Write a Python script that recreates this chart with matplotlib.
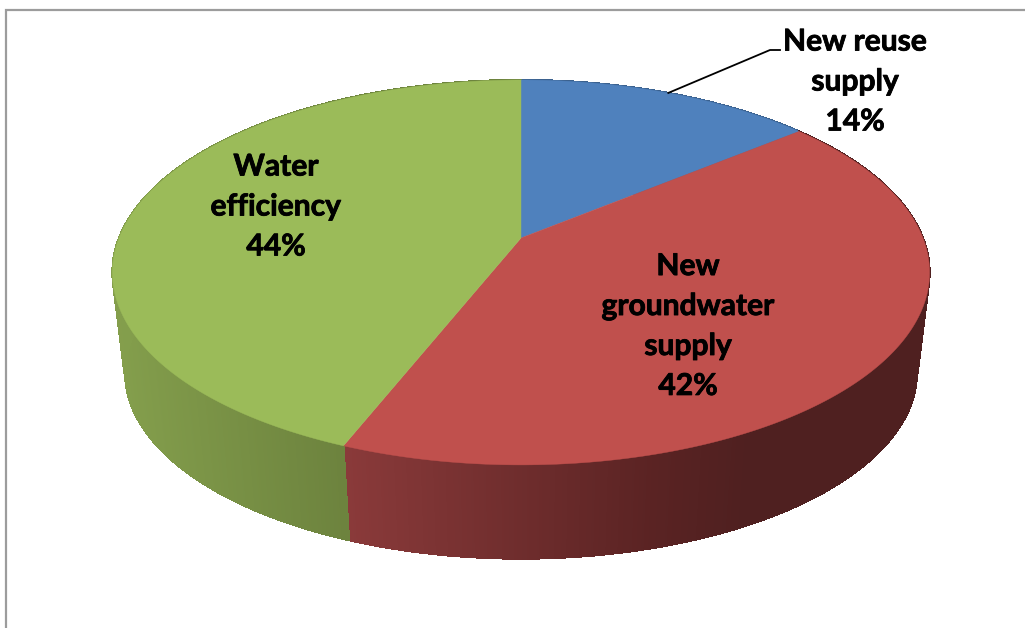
import numpy as np
import matplotlib
matplotlib.use("Agg")
import matplotlib.pyplot as plt
import matplotlib.patheffects as pe
from matplotlib.collections import PolyCollection
from matplotlib.colors import to_rgb

labels = ["New reuse\nsupply", "New\ngroundwater\nsupply", "Water\nefficiency"]
values = [14, 42, 44]
top_colors = ["#4f81bd", "#c0504d", "#9bbb59"]

# wall shade, left to right across the canvas
wall_x = [[350, 620], [350, 650, 740], [112, 345]]
wall_colors = [["#3b618e", "#3b618e"],
               ["#8a3a3a", "#5a2323", "#4f2020"],
               ["#85a04d", "#6d833e"]]

label_pos = [(855, 81.5), (688, 326), (276, 206.5)]

# perspective of the disc
persp = 0.179
cx = 521


def project(theta, y0, a, b):
    u, v = np.sin(theta), np.cos(theta)
    d = 1 + persp * v
    return cx + a * u / d, y0 - b * v / d


def top_edge(theta):
    return project(theta, 238, 402, 186.3)


def bottom_edge(theta):
    return project(theta, 339.4, 389.5, 180)


def shade(x, xs, cols):
    rgb = np.array([to_rgb(c) for c in cols])
    return [np.interp(x, xs, rgb[:, i]) for i in range(3)]


fig = plt.figure(figsize=(10.25, 6.28), dpi=100)
ax = fig.add_axes([0, 0, 1, 1])
ax.set_xlim(0, 1025)
ax.set_ylim(628, 0)
ax.axis("off")

# chart frame, only left and top show
ax.plot([6, 6, 1025], [628, 10, 10], color="#9c9c9c", lw=1.6, solid_joinstyle="miter")

edges = np.cumsum([0] + values) / sum(values) * 2 * np.pi

# side wall as thin strips, no antialiasing so the seams stay hidden
for i in range(len(values)):
    th = np.linspace(edges[i], edges[i + 1], int(values[i] * 12) + 2)
    xt, yt = top_edge(th)
    xb, yb = bottom_edge(th)
    quads = []
    cols = []
    for j in range(len(th) - 1):
        quads.append([(xt[j], yt[j]), (xt[j + 1], yt[j + 1]),
                      (xb[j + 1], yb[j + 1]), (xb[j], yb[j])])
        cols.append(shade((xb[j] + xb[j + 1]) / 2, wall_x[i], wall_colors[i]))
    ax.add_collection(PolyCollection(quads, facecolors=cols, edgecolors=cols,
                                     linewidths=0.8, antialiaseds=False))

# top of the disc
for i in range(len(values)):
    th = np.linspace(edges[i], edges[i + 1], 200)
    xt, yt = top_edge(th)
    ax.fill(np.r_[cx, xt], np.r_[238, yt], color=top_colors[i], lw=0.3)

# leader line for the small slice
mx, my = top_edge((edges[0] + edges[1]) / 2)
ax.plot([mx, 770, 780], [my, 50, 50], color="black", lw=1.3)

# Lato bold is a little light, thicken it with a thin stroke
for lab, v, pos in zip(labels, values, label_pos):
    ax.text(pos[0], pos[1], f"{lab}\n{v}%", ha="center", va="center", family="Lato",
            fontweight="bold", fontsize=21.6, linespacing=1.52, color="black",
            path_effects=[pe.withStroke(linewidth=0.6, foreground="black")])

fig.savefig("out.png", dpi=100, facecolor="white")
